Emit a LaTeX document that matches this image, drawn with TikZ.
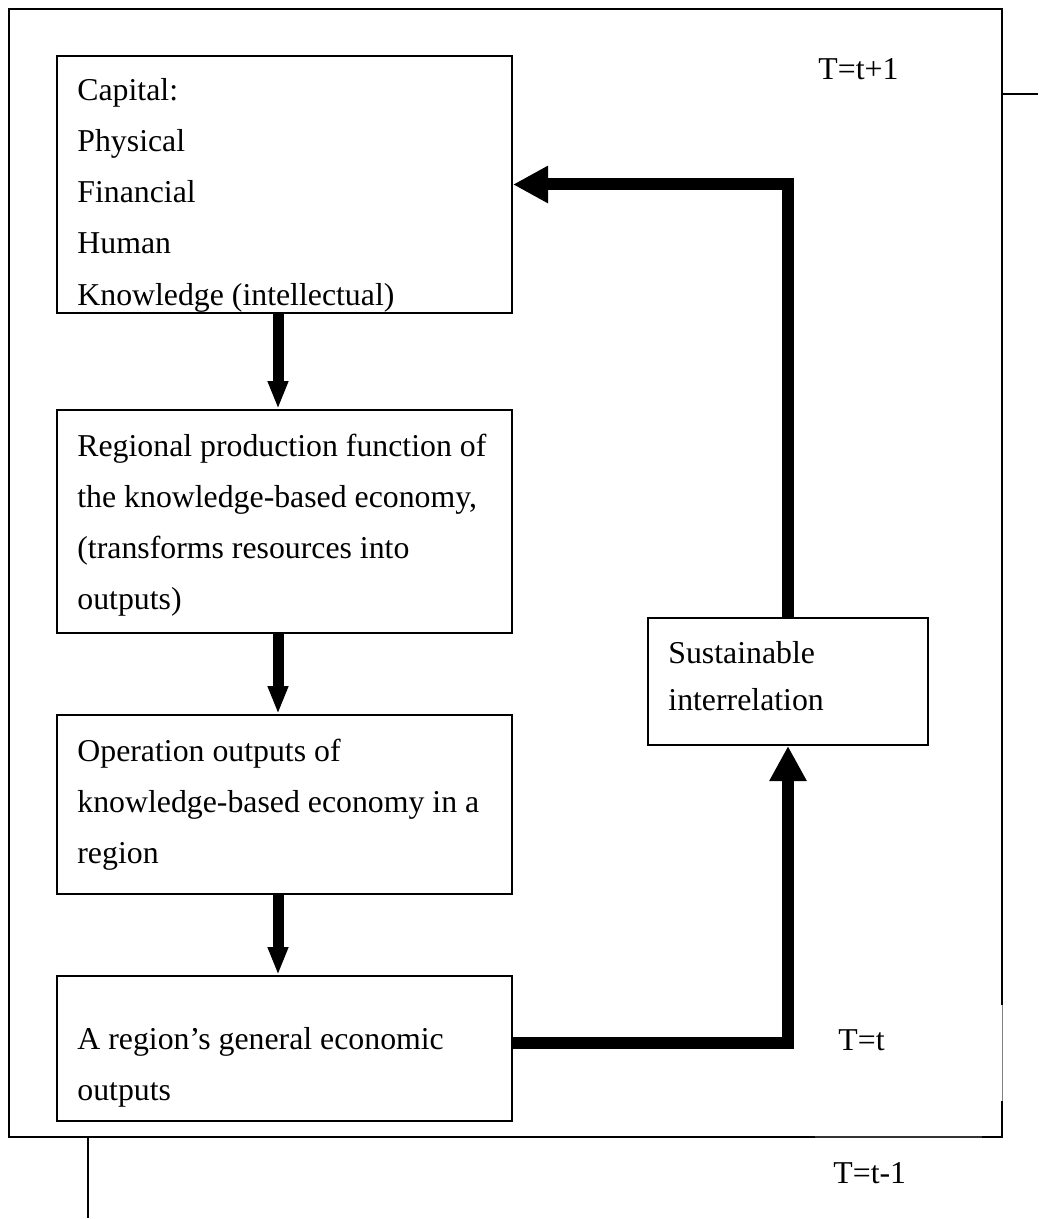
\documentclass[tikz,border=0pt]{standalone}
\usepackage{fontspec}
\setmainfont{Liberation Serif}
\usetikzlibrary{arrows.meta,calc}
\tikzset{
  box/.style={draw, line width=1pt, rectangle, inner sep=0pt, anchor=north west},
  txt/.style={inner sep=0pt, anchor=north west, align=left, font=\fontsize{15.9}{25.6}\selectfont},
  lbl/.style={inner sep=0pt, anchor=base west, font=\fontsize{15.9}{25.6}\selectfont},
  vdown/.style={line width=5.5pt, -{Triangle[length=14pt,width=9.5pt]}},
  fb/.style={line width=6pt, line join=miter, -{Triangle[length=17.5pt,width=17.5pt]}},
  frame/.style={line width=1pt, line join=miter},
  faint/.style={line width=0.75pt, black!80},
  fainter/.style={line width=0.6pt, black!50}
}
\begin{document}
\begin{tikzpicture}[x=0.5pt,y=-0.5pt]
\useasboundingbox (0,0) rectangle (1038,1219);
% outer frame
\draw[frame] (1002,1005) -- (1002,9) -- (9,9) -- (9,1137) -- (815,1137);
\draw[frame] (982,1137) -- (1002,1137) -- (1002,1101);
\draw[faint] (815,1137) -- (982,1137);
\draw[fainter] (1002.5,1005) -- (1002.5,1101);
\draw[frame] (1002,94) -- (1038,94);
\draw[frame] (88,1137) -- (88,1218);
% boxes
\node[box, minimum width=227.5pt, minimum height=128.5pt] (b1) at (56,55) {};
\node[box, minimum width=227.5pt, minimum height=111.5pt] (b2) at (56,409) {};
\node[box, minimum width=227.5pt, minimum height=89.5pt] (b3) at (56,714) {};
\node[box, minimum width=227.5pt, minimum height=72.5pt] (b4) at (56,975) {};
\node[box, minimum width=140pt, minimum height=63.5pt] (b5) at (647,617) {};
% texts
\node[txt] (t1) at (77,64) {\strut Capital:\\Physical\\Financial\\Human\\Knowledge (intellectual)};
\node[txt] (t2) at (77,420) {\strut Regional production function of\\the knowledge-based economy,\\(transforms resources into\\outputs)};
\node[txt] (t3) at (77,725) {\strut Operation outputs of\\knowledge-based economy in a\\region};
\node[txt] (t4) at (77,1013) {\strut A region’s general economic\\outputs};
\node[txt, font=\fontsize{15.9}{23.5}\selectfont] (t5) at (668,630) {\strut Sustainable\\interrelation};
% labels
\node[lbl] (l1) at (818,80) {T=t+1};
\node[lbl] (l2) at (838,1050) {T=t};
\node[lbl] (l3) at (833,1183) {T=t-1};
% arrows
\draw[vdown] ([xshift=-3.25pt]b1.south) -- ([xshift=-3.25pt]b2.north);
\draw[vdown] ([xshift=-3.25pt]b2.south) -- ([xshift=-3.25pt]b3.north);
\draw[vdown] ([xshift=-3.25pt]b3.south) -- ([xshift=-3.25pt]b4.north);
\draw[fb] ([yshift=2.75pt]b4.east) -| (b5.south);
\draw[fb] (b5.north) |- (b1.east);
\end{tikzpicture}
\end{document}
